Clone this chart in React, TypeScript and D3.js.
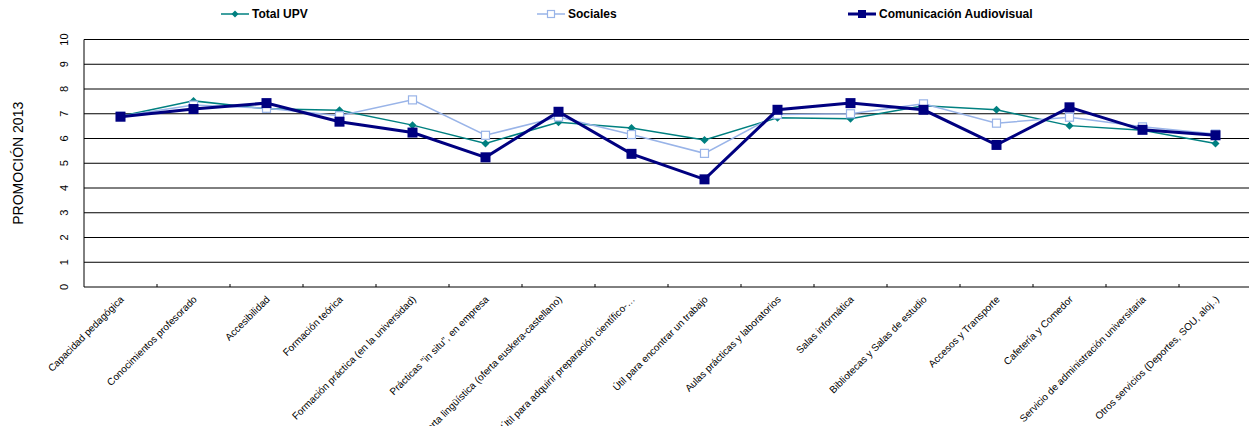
import React, { useEffect } from "react";
import * as d3 from "d3";

const categories = [
  "Capacidad pedagógica",
  "Conocimientos profesorado",
  "Accesibilidad",
  "Formación teórica",
  "Formación práctica (en la universidad)",
  "Prácticas \"in situ\", en empresa",
  "Oferta lingüística (oferta euskera-castellano)",
  "Útil para adquirir preparación científico-…",
  "Útil para encontrar un trabajo",
  "Aulas prácticas y laboratorios",
  "Salas informática",
  "Bibliotecas y Salas de estudio",
  "Accesos y Transporte",
  "Cafetería y Comedor",
  "Servicio de administración universitaria",
  "Otros servicios (Deportes, SOU, aloj..)",
];

const totalUPV = [6.9, 7.52, 7.2, 7.14, 6.54, 5.8, 6.66, 6.42, 5.94, 6.84, 6.8, 7.32, 7.16, 6.52, 6.33, 5.8];
const sociales = [6.9, 7.35, 7.22, 6.92, 7.56, 6.13, 6.87, 6.16, 5.4, 6.97, 7.0, 7.4, 6.62, 6.86, 6.47, 6.18];
const comunicacion = [6.88, 7.19, 7.43, 6.68, 6.24, 5.24, 7.08, 5.38, 4.35, 7.16, 7.43, 7.16, 5.74, 7.26, 6.35, 6.13];

const yTicks = [0, 1, 2, 3, 4, 5, 6, 7, 8, 9, 10];

const seriesNames = ["Total UPV", "Sociales", "Comunicación Audiovisual"];

const W = 1249;
const H = 426;
const plotLeft = 84;
const bandW = 73;
const plotTop = 39.5;
const plotBottom = 287;

export default function App() {
  useEffect(() => {
    document.body.style.margin = "0";
  }, []);

  const x = d3
    .scaleBand<string>()
    .domain(categories)
    .range([plotLeft, plotLeft + bandW * categories.length])
    .padding(0);
  const y = d3.scaleLinear().domain([0, 10]).range([plotBottom, plotTop]);
  const cx = (c: string) => (x(c) as number) + x.bandwidth() / 2;

  const line = d3
    .line<number>()
    .x((_, i) => cx(categories[i]))
    .y((d) => y(d));

  const teal = "#008080";
  const light = "#99B4E8";
  const navy = "#000080";

  const diamond = (px: number, py: number, r: number) =>
    `M${px},${py - r}L${px + r},${py}L${px},${py + r}L${px - r},${py}Z`;

  const legendY = 14;
  const legendItems = [
    { name: seriesNames[0], x0: 221, color: teal, w: 1.5, kind: "diamond" },
    { name: seriesNames[1], x0: 537, color: light, w: 1.5, kind: "open" },
    { name: seriesNames[2], x0: 848, color: navy, w: 3, kind: "square" },
  ];

  return (
    <svg width={W} height={H} style={{ display: "block", background: "#fff" }} fontFamily="Arial, 'Liberation Sans', sans-serif">
      {yTicks.map((t) => (
        <line key={"g" + t} x1={plotLeft} x2={W} y1={y(t)} y2={y(t)} stroke="#000" strokeWidth={1} />
      ))}
      <line x1={plotLeft} x2={plotLeft} y1={plotTop} y2={plotBottom} stroke="#000" strokeWidth={1} />
      {categories.slice(1).map((c) => (
        <line key={"t" + c} x1={x(c) as number} x2={x(c) as number} y1={plotBottom} y2={plotBottom - 3} stroke="#000" strokeWidth={1} />
      ))}
      {yTicks.map((t) => (
        <text key={"yl" + t} transform={`translate(68,${y(t)}) rotate(-90)`} textAnchor="middle" fontSize={11} fill="#000">
          {t}
        </text>
      ))}
      <text transform={`translate(23,${(plotTop + plotBottom) / 2}) rotate(-90)`} textAnchor="middle" fontSize={14} fill="#000">
        PROMOCIÓN 2013
      </text>
      {categories.map((c) => (
        <text key={"xl" + c} transform={`translate(${cx(c) + 4},${plotBottom + 13}) rotate(-45)`} textAnchor="end" fontSize={10} fill="#000">
          {c}
        </text>
      ))}
      <path d={line(totalUPV) as string} fill="none" stroke={teal} strokeWidth={1.5} />
      {totalUPV.map((v, i) => (
        <path key={"d" + i} d={diamond(cx(categories[i]), y(v), 4)} fill={teal} />
      ))}
      <path d={line(sociales) as string} fill="none" stroke={light} strokeWidth={1.5} />
      {sociales.map((v, i) => (
        <rect key={"s" + i} x={cx(categories[i]) - 4} y={y(v) - 4} width={8} height={8} fill="#fff" stroke={light} strokeWidth={1.2} />
      ))}
      <path d={line(comunicacion) as string} fill="none" stroke={navy} strokeWidth={3} />
      {comunicacion.map((v, i) => (
        <rect key={"c" + i} x={cx(categories[i]) - 5} y={y(v) - 5} width={10} height={10} fill={navy} />
      ))}
      {legendItems.map((it) => (
        <g key={it.name}>
          <line x1={it.x0} x2={it.x0 + 28} y1={legendY} y2={legendY} stroke={it.color} strokeWidth={it.w} />
          {it.kind === "diamond" && <path d={diamond(it.x0 + 14, legendY, 3.5)} fill={it.color} />}
          {it.kind === "open" && (
            <rect x={it.x0 + 10.5} y={legendY - 3.5} width={7} height={7} fill="#fff" stroke={it.color} strokeWidth={1.2} />
          )}
          {it.kind === "square" && <rect x={it.x0 + 10} y={legendY - 4} width={8} height={8} fill={it.color} />}
          <text x={it.x0 + 31} y={legendY + 4} fontSize={12} fontWeight="bold" fill="#000">
            {it.name}
          </text>
        </g>
      ))}
    </svg>
  );
}
